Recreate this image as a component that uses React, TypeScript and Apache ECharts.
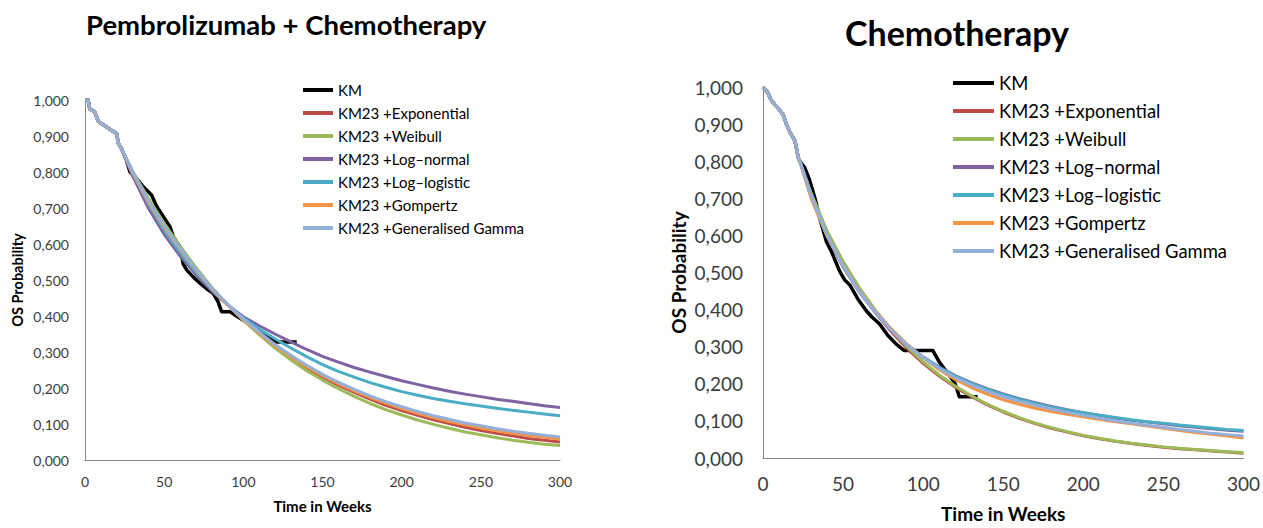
import React, { useEffect, useRef } from "react";
import * as echarts from "echarts";

// ---------- shared ----------
const SERIES_NAMES = [
  "KM",
  "KM23 +Exponential",
  "KM23 +Weibull",
  "KM23 +Log–normal",
  "KM23 +Log–logistic",
  "KM23 +Gompertz",
  "KM23 +Generalised Gamma",
];
const SERIES_COLORS = ["#000000", "#BE4B48", "#9BBB59", "#7F62A1", "#4AACC5", "#F59443", "#93AFDA"];
const X_TICKS = [0, 50, 100, 150, 200, 250, 300];
const FIT_WEEKS = [23, 30, 40, 50, 60, 70, 80, 90, 100, 110, 120, 130, 140, 150, 160, 170, 180, 190, 200, 210, 220, 230, 240, 250, 260, 270, 280, 290, 300];

// ---------- Pembrolizumab + Chemotherapy ----------
const PC_KM_WEEKS = [0, 2, 3, 6, 8.5, 12, 16, 20, 21, 23, 26, 28.4, 32, 36.8, 40, 42, 45.3, 49.5, 53.7, 55.8, 60, 62, 64.2, 68, 72.6, 77, 81, 84, 86.3, 91.6, 97.9, 102, 106, 112.6, 117, 121, 133.7];
const PC_KM_OS = [1.0, 1.0, 0.975, 0.968, 0.94, 0.93, 0.918, 0.907, 0.88, 0.865, 0.835, 0.8, 0.785, 0.759, 0.745, 0.736, 0.704, 0.676, 0.648, 0.62, 0.592, 0.545, 0.528, 0.51, 0.491, 0.475, 0.463, 0.44, 0.412, 0.412, 0.394, 0.383, 0.37, 0.352, 0.338, 0.328, 0.328];
const PC_PREFIX_COUNT = 9; // KM points before week 23
const PC_EXP = [0.865, 0.8, 0.722, 0.652, 0.59, 0.532, 0.478, 0.432, 0.39, 0.351, 0.316, 0.284, 0.256, 0.231, 0.208, 0.188, 0.169, 0.152, 0.137, 0.124, 0.112, 0.101, 0.091, 0.082, 0.074, 0.067, 0.06, 0.055, 0.05];
const PC_WEI = [0.865, 0.803, 0.727, 0.657, 0.594, 0.535, 0.48, 0.432, 0.388, 0.348, 0.311, 0.278, 0.248, 0.222, 0.198, 0.177, 0.157, 0.14, 0.125, 0.111, 0.099, 0.088, 0.078, 0.07, 0.062, 0.055, 0.049, 0.044, 0.04];
const PC_LN = [0.865, 0.79, 0.7, 0.627, 0.567, 0.515, 0.47, 0.431, 0.398, 0.373, 0.35, 0.328, 0.307, 0.288, 0.272, 0.257, 0.244, 0.232, 0.22, 0.21, 0.2, 0.191, 0.183, 0.176, 0.169, 0.163, 0.157, 0.151, 0.146];
const PC_LL = [0.865, 0.8, 0.712, 0.638, 0.576, 0.522, 0.474, 0.432, 0.395, 0.364, 0.337, 0.311, 0.287, 0.265, 0.246, 0.23, 0.215, 0.202, 0.19, 0.18, 0.171, 0.163, 0.156, 0.15, 0.144, 0.138, 0.133, 0.128, 0.123];
const PC_GOM = [0.865, 0.797, 0.716, 0.646, 0.585, 0.528, 0.476, 0.43, 0.39, 0.352, 0.318, 0.287, 0.259, 0.234, 0.212, 0.192, 0.174, 0.158, 0.143, 0.13, 0.118, 0.107, 0.098, 0.089, 0.081, 0.074, 0.068, 0.063, 0.058];
const PC_GG = [0.865, 0.8, 0.72, 0.65, 0.588, 0.53, 0.478, 0.432, 0.392, 0.355, 0.321, 0.291, 0.263, 0.238, 0.216, 0.196, 0.178, 0.162, 0.148, 0.135, 0.123, 0.113, 0.103, 0.095, 0.087, 0.08, 0.074, 0.069, 0.064];

// ---------- Chemotherapy ----------
const CH_KM_WEEKS = [0, 3, 5, 7.5, 10, 12.6, 15, 17, 20, 22, 23, 26, 29, 31.3, 32.5, 35.5, 39.6, 42.7, 47.9, 51, 54.1, 59.3, 64.5, 68, 72.8, 78, 83.2, 88, 106, 110, 117, 120, 122.6, 134];
const CH_KM_OS = [1.0, 0.985, 0.965, 0.952, 0.94, 0.925, 0.895, 0.877, 0.854, 0.81, 0.8, 0.783, 0.75, 0.717, 0.699, 0.645, 0.583, 0.557, 0.503, 0.48, 0.467, 0.428, 0.397, 0.38, 0.361, 0.33, 0.307, 0.29, 0.29, 0.259, 0.219, 0.2, 0.165, 0.165];
const CH_PREFIX_COUNT = 10;
const CH_EXP = [0.8, 0.712, 0.607, 0.525, 0.454, 0.393, 0.341, 0.295, 0.255, 0.221, 0.191, 0.166, 0.143, 0.124, 0.107, 0.093, 0.08, 0.07, 0.06, 0.052, 0.045, 0.039, 0.034, 0.029, 0.025, 0.022, 0.019, 0.016, 0.013];
const CH_WEI = [0.8, 0.715, 0.612, 0.53, 0.46, 0.399, 0.346, 0.3, 0.259, 0.224, 0.194, 0.168, 0.145, 0.126, 0.109, 0.094, 0.082, 0.071, 0.061, 0.053, 0.046, 0.04, 0.035, 0.03, 0.026, 0.023, 0.02, 0.017, 0.015];
const CH_LN = [0.8, 0.705, 0.598, 0.515, 0.448, 0.393, 0.345, 0.305, 0.272, 0.245, 0.222, 0.203, 0.187, 0.173, 0.16, 0.149, 0.139, 0.13, 0.122, 0.115, 0.108, 0.102, 0.097, 0.092, 0.087, 0.083, 0.079, 0.075, 0.072];
const CH_LL = [0.8, 0.707, 0.6, 0.517, 0.45, 0.394, 0.346, 0.306, 0.272, 0.244, 0.221, 0.201, 0.185, 0.171, 0.158, 0.147, 0.137, 0.129, 0.122, 0.115, 0.109, 0.103, 0.098, 0.094, 0.089, 0.085, 0.081, 0.077, 0.074];
const CH_GOM = [0.8, 0.7, 0.598, 0.518, 0.452, 0.396, 0.348, 0.306, 0.27, 0.238, 0.212, 0.19, 0.172, 0.157, 0.145, 0.134, 0.125, 0.118, 0.111, 0.104, 0.098, 0.092, 0.086, 0.08, 0.074, 0.069, 0.064, 0.059, 0.054];
const CH_GG = [0.8, 0.708, 0.601, 0.518, 0.45, 0.394, 0.345, 0.304, 0.27, 0.241, 0.217, 0.197, 0.18, 0.165, 0.153, 0.142, 0.132, 0.123, 0.115, 0.107, 0.1, 0.094, 0.088, 0.083, 0.077, 0.072, 0.067, 0.063, 0.059];

const FONT = "Lato, 'Open Sans', sans-serif";

function pairs(xs: number[], ys: number[]) {
  return xs.map((x, i) => [x, ys[i]]);
}

function buildSeries(kmW: number[], kmOS: number[], prefixCount: number, fits: number[][], idx: number) {
  const prefix = pairs(kmW.slice(0, prefixCount), kmOS.slice(0, prefixCount));
  const list: any[] = [];
  list.push({
    name: SERIES_NAMES[0],
    type: "line",
    xAxisIndex: idx,
    yAxisIndex: idx,
    data: pairs(kmW, kmOS),
    symbol: "none",
    showSymbol: false,
    color: SERIES_COLORS[0],
    itemStyle: { color: SERIES_COLORS[0] },
    lineStyle: { color: SERIES_COLORS[0], width: 3.5, join: "round" },
    z: 2,
  });
  fits.forEach((vals, k) => {
    list.push({
      name: SERIES_NAMES[k + 1],
      type: "line",
      xAxisIndex: idx,
      yAxisIndex: idx,
      data: prefix.concat(pairs(FIT_WEEKS, vals)),
      symbol: "none",
      showSymbol: false,
      color: SERIES_COLORS[k + 1],
      itemStyle: { color: SERIES_COLORS[k + 1] },
      lineStyle: { color: SERIES_COLORS[k + 1], width: 3, join: "round" },
      z: 3 + k,
    });
  });
  return list;
}

function xAxisCfg(idx: number, labelSize: number, nameSize: number, nameGap: number, labelMargin: number) {
  return {
    type: "value",
    gridIndex: idx,
    min: 0,
    max: 300,
    interval: 50,
    name: "Time in Weeks",
    nameLocation: "middle",
    nameGap,
    nameTextStyle: { fontFamily: FONT, fontWeight: "bold", fontSize: nameSize, color: "#000" },
    axisLine: { show: true, lineStyle: { color: "#868686", width: 1 } },
    axisTick: { show: false },
    splitLine: { show: false },
    axisLabel: {
      fontFamily: FONT,
      fontSize: labelSize,
      color: "#3c3c3c",
      margin: labelMargin,
      formatter: (v: number) => (X_TICKS.indexOf(v) >= 0 ? String(v) : ""),
    },
  };
}

function yAxisCfg(idx: number, labelSize: number, nameSize: number, nameGap: number, labelMargin: number) {
  return {
    type: "value",
    gridIndex: idx,
    min: 0,
    max: 1,
    interval: 0.1,
    name: "OS Probability",
    nameLocation: "middle",
    nameRotate: 90,
    nameGap,
    nameTextStyle: { fontFamily: FONT, fontWeight: "bold", fontSize: nameSize, color: "#000" },
    axisLine: { show: true, lineStyle: { color: "#868686", width: 1 } },
    axisTick: { show: false },
    splitLine: { show: false },
    axisLabel: {
      fontFamily: FONT,
      fontSize: labelSize,
      color: "#3c3c3c",
      margin: labelMargin,
      formatter: (v: number) => v.toFixed(3).replace(".", ","),
    },
  };
}

export default function App() {
  const ref = useRef<HTMLDivElement>(null);
  useEffect(() => {
    const chart = echarts.init(ref.current!, null, { renderer: "svg" });
    const option: any = {
      animation: false,
      backgroundColor: "#ffffff",
      textStyle: { fontFamily: FONT },
      title: [
        {
          text: "Pembrolizumab + Chemotherapy",
          left: 86,
          top: 10,
          padding: 0,
          textStyle: { fontFamily: FONT, fontWeight: "bold", fontSize: 27.5, color: "#000" },
        },
        {
          text: "Chemotherapy",
          left: 845,
          top: 15,
          padding: 0,
          textStyle: { fontFamily: FONT, fontWeight: "bold", fontSize: 34, color: "#000" },
        },
      ],
      legend: [
        {
          orient: "vertical",
          left: 303,
          top: 82.5,
          padding: 0,
          itemGap: 8,
          itemWidth: 30,
          itemHeight: 4,
          icon: "rect",
          data: SERIES_NAMES,
          textStyle: { fontFamily: FONT, fontSize: 15, color: "#000" },
        },
        {
          orient: "vertical",
          left: 953,
          top: 74,
          padding: 0,
          itemGap: 10,
          itemWidth: 41,
          itemHeight: 4,
          icon: "rect",
          data: SERIES_NAMES,
          textStyle: { fontFamily: FONT, fontSize: 18.4, color: "#000" },
        },
      ],
      grid: [
        { left: 85, top: 100, width: 475, height: 360 },
        { left: 763, top: 87, width: 482, height: 375 },
      ],
      xAxis: [xAxisCfg(0, 14, 15, 38, 14), xAxisCfg(1, 19, 19, 46, 16)],
      yAxis: [yAxisCfg(0, 14, 14.5, 60, 16), yAxisCfg(1, 19, 19, 75, 20)],
      series: [
        ...buildSeries(PC_KM_WEEKS, PC_KM_OS, PC_PREFIX_COUNT, [PC_EXP, PC_WEI, PC_LN, PC_LL, PC_GOM, PC_GG], 0),
        ...buildSeries(CH_KM_WEEKS, CH_KM_OS, CH_PREFIX_COUNT, [CH_EXP, CH_WEI, CH_LN, CH_LL, CH_GOM, CH_GG], 1),
      ],
    };
    chart.setOption(option);
    return () => chart.dispose();
  }, []);
  return (
    <div
      ref={ref}
      style={{ position: "absolute", left: 0, top: 0, width: 1263, height: 528, background: "#fff" }}
    />
  );
}
